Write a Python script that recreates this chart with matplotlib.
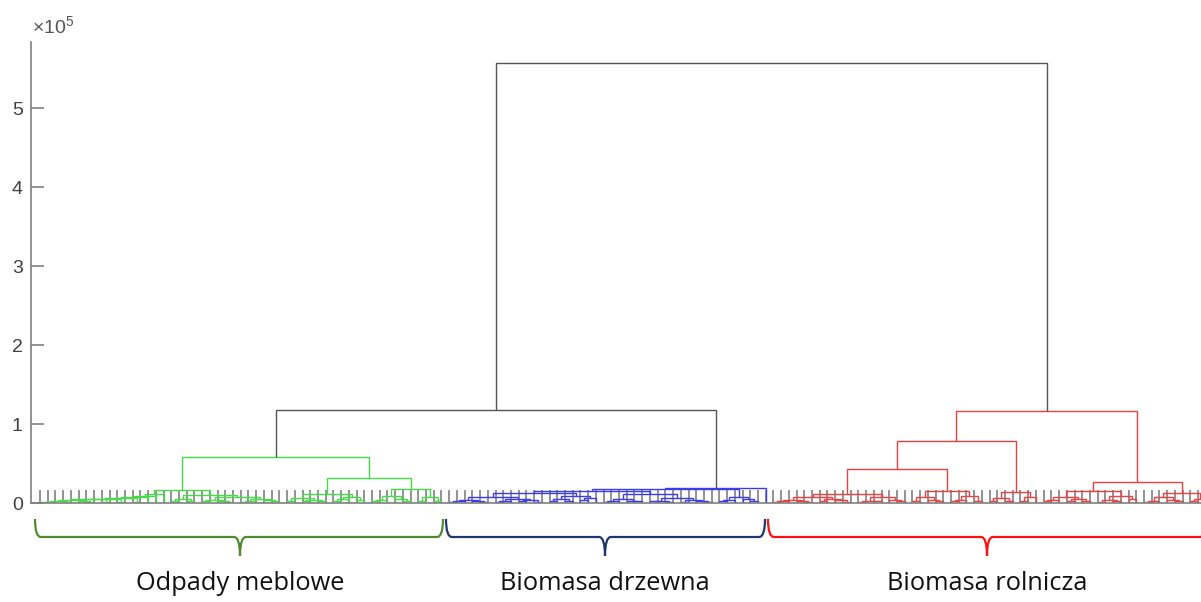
import matplotlib
matplotlib.use('Agg')
import matplotlib.pyplot as plt
from matplotlib.path import Path
from matplotlib.patches import PathPatch

# ---------------- data (link heights in units of 1e5) ----------------
# node = (height, left, right); leaf = 0
green_tree = (0.58,
    (0.165,
        (0.11, (0.085, (0.07, (0.06, (0.05, (0.045, (0.04, (0.03,
            (0.015, (0.008, 0, 0), 0), (0.01, 0, 0)),
            (0.02, 0, (0.012, 0, 0))), (0.012, 0, 0)), (0.018, 0, 0)),
            (0.01, 0, 0)), 0), 0), 0),
        (0.10,
            (0.05, (0.02, 0, 0), (0.03, 0, 0)),
            (0.07, (0.04, (0.02, 0, 0), (0.025, 0, (0.01, 0, 0))),
                   (0.05, (0.03, (0.012, 0, 0), 0), (0.035, 0, (0.02, 0, 0)))))),
    (0.32,
        (0.12,
            (0.06, (0.03, 0, 0), (0.04, (0.02, 0, 0), (0.025, 0, 0))),
            (0.08, (0.05, (0.02, 0, 0), 0), (0.04, 0, 0))),
        (0.18,
            (0.09, (0.04, (0.02, 0, 0), 0), (0.05, 0, (0.03, 0, 0))),
            (0.07, (0.02, 0, 0), (0.03, 0, 0)))))

blue_tree = (0.196,
    (0.177,
        (0.15,
            (0.13,
                (0.07, (0.04, (0.02, (0.01, 0, 0), 0), (0.025, 0, (0.01, 0, 0))),
                       (0.05, (0.03, (0.015, 0, 0), 0), (0.035, (0.02, 0, 0), (0.01, 0, 0)))),
                (0.09, (0.05, (0.02, 0, 0), (0.03, 0, 0)),
                       (0.06, (0.035, 0, 0), 0))),
            (0.11,
                (0.05, (0.02, (0.01, 0, 0), 0), (0.03, 0, (0.02, 0, 0))),
                (0.06, (0.03, (0.02, 0, 0), (0.015, 0, 0)),
                       (0.04, (0.015, 0, 0), (0.025, 0, (0.01, 0, 0)))))),
        (0.08, (0.04, (0.02, 0, 0), 0), (0.05, 0, (0.03, 0, 0)))),
    0)

red_tree = (1.165,
    (0.78,
        (0.43,
            (0.12,
                (0.07, (0.04, (0.02, (0.01, 0, 0), 0), (0.025, 0, (0.01, 0, 0))),
                       (0.05, (0.03, 0, 0), (0.035, 0, (0.01, 0, 0)))),
                (0.08, (0.03, (0.015, 0, 0), (0.02, 0, 0)),
                       (0.04, 0, (0.02, 0, 0)))),
            (0.155,
                (0.07, (0.03, 0, 0), (0.04, 0, (0.02, 0, 0))),
                (0.09, (0.04, (0.02, 0, 0), 0), (0.03, 0, 0)))),
        (0.14, (0.06, (0.02, 0, 0), (0.03, 0, 0)), (0.07, (0.03, 0, 0), 0))),
    (0.27,
        (0.15,
            (0.08, (0.04, (0.02, 0, 0), 0), (0.05, (0.02, 0, 0), (0.03, 0, 0))),
            (0.09, (0.04, (0.015, 0, 0), (0.02, 0, 0)), (0.05, 0, 0))),
        (0.13,
            (0.07, (0.03, (0.015, 0, 0), 0), (0.04, 0, (0.02, 0, 0))),
            (0.05, (0.02, 0, 0), 0))))

green_blue_height = 1.18
top_height = 5.57

group_names = ["Odpady meblowe", "Biomasa drzewna", "Biomasa rolnicza"]
y_ticks = [0, 1, 2, 3, 4, 5]

# ---------------- styling ----------------
link_colors = ['#45dd45', '#3c3cee', '#ee4040']
brace_colors = ['#4f8a2f', '#1f3868', '#ff1010']
above_color = '#555555'
axis_color = '#808080'

W, H = 1201, 602
fig = plt.figure(figsize=(W / 100, H / 100), dpi=100)

px_per_leaf = 7.72
x_lo = -0.17
x_hi = 153.0
ax_left_px = 31.0
ax = fig.add_axes([ax_left_px / W, (H - 503) / H,
                   (x_hi - x_lo) * px_per_leaf / W, (503 - 42) / H])

counter = [0]
leaf_pos = []


def walk(node, color):
    if not isinstance(node, tuple):
        counter[0] += 1
        leaf_pos.append(counter[0])
        return float(counter[0]), 0.0
    h, l, r = node
    xl, hl = walk(l, color)
    xr, hr = walk(r, color)
    ax.plot([xl, xl, xr, xr], [hl, h, h, hr], color=color, lw=1.0,
            solid_joinstyle='miter', solid_capstyle='butt')
    return (xl + xr) / 2.0, h


def link(a, b, h, color):
    ax.plot([a[0], a[0], b[0], b[0]], [a[1], h, h, b[1]], color=color, lw=1.0,
            solid_joinstyle='miter', solid_capstyle='butt')


pg = walk(green_tree, link_colors[0])
pb = walk(blue_tree, link_colors[1])
link(pg, pb, green_blue_height, above_color)
pgb = ((pg[0] + pb[0]) / 2.0, green_blue_height)
pr = walk(red_tree, link_colors[2])
link(pgb, pr, top_height, above_color)

ax.set_xlim(x_lo, x_hi)
ax.set_ylim(0, 5.84)
ax.set_xticks(leaf_pos)
ax.set_xticklabels([])
ax.set_yticks(y_ticks)
ax.set_yticklabels([str(t) for t in y_ticks], fontfamily='Liberation Sans')
ax.tick_params(axis='x', direction='in', length=9.3, width=1.2, color=axis_color)
ax.tick_params(axis='y', direction='in', length=9.0, width=1.2, color=axis_color,
               labelsize=14, labelcolor='#404040', pad=6)
for s in ['top', 'right']:
    ax.spines[s].set_visible(False)
for s in ['left', 'bottom']:
    ax.spines[s].set_color(axis_color)
    ax.spines[s].set_linewidth(1.2)
ax.patch.set_alpha(0)

# ---------------- overlay: braces and labels ----------------
ov = fig.add_axes([0, 0, 1, 1])
ov.set_xlim(0, W)
ov.set_ylim(H, 0)
ov.axis('off')
ov.patch.set_alpha(0)


def brace(xa, xb, xc, color, ytop=519, ymid=537, ytip=556, r=6):
    verts = [(xa, ytop), (xa, ymid), (xa + r, ymid), (xc - r, ymid), (xc, ymid), (xc, ytip),
             (xc, ymid), (xc + r, ymid), (xb - r, ymid), (xb, ymid), (xb, ytop)]
    codes = [Path.MOVETO, Path.CURVE3, Path.CURVE3, Path.LINETO, Path.CURVE3, Path.CURVE3,
             Path.CURVE3, Path.CURVE3, Path.LINETO, Path.CURVE3, Path.CURVE3]
    ov.add_patch(PathPatch(Path(verts, codes), fill=False, edgecolor=color, lw=1.6))


brace_spans = [(35, 443, 240), (446, 765, 605), (768, 1206, 987)]
for (xa, xb, xc), col, name in zip(brace_spans, brace_colors, group_names):
    brace(xa, xb, xc, col)
    ov.text(xc, 584, name, ha='center', va='center', fontsize=18.3,
            fontfamily='Open Sans', color='#111111')

ov.text(32, 26, r'$\mathregular{\times10^{5}}$', fontsize=14, color='#555555',
        va='center', ha='left', fontfamily='Liberation Sans')

fig.savefig('out.png', dpi=100)
